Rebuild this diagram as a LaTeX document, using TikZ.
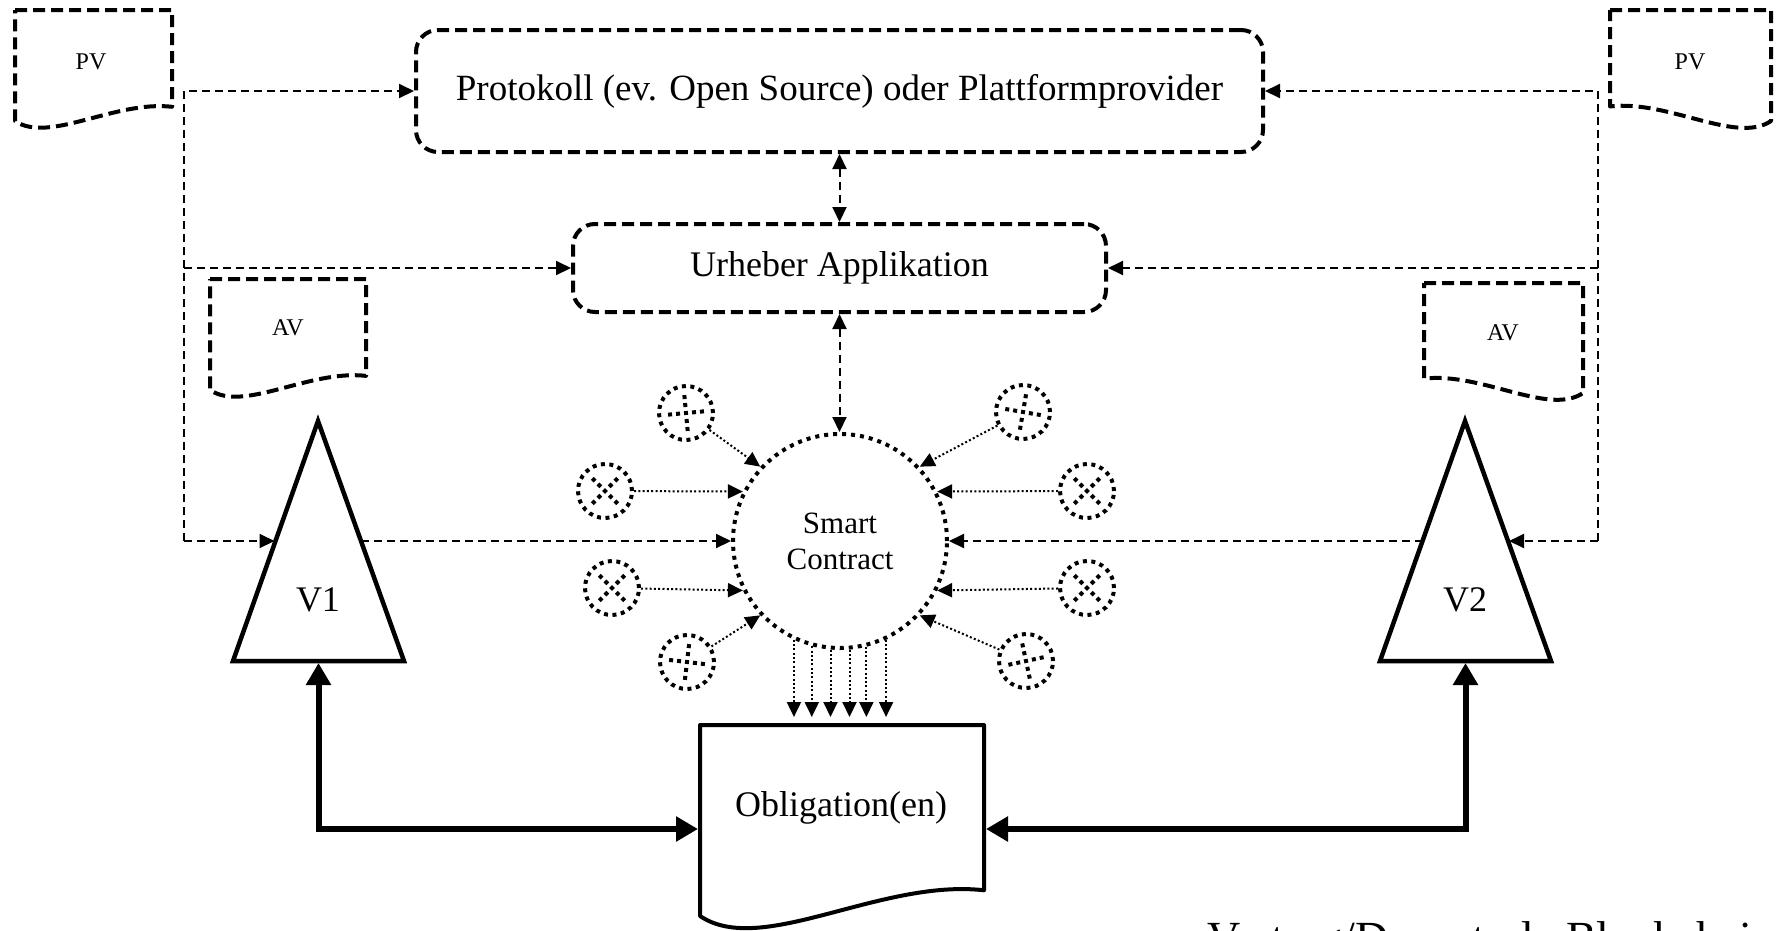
\documentclass[tikz,border=0pt]{standalone}
\usepackage{fontspec}
\setmainfont{Liberation Serif}
\usetikzlibrary{arrows.meta,calc}

% document symbol, wavy bottom lowest on the left:
% #1 left x, #2 top y, #3 width, #4 bottom y on the left side, #5 style
\newcommand{\docLeftLow}[5]{%
  \draw[#5] (#1,#2) -- ({#1+#3},#2) -- ({#1+#3},{#4-0.0906*#3})
    .. controls ({#1+0.634*#3},{#4-0.132*#3}) and ({#1+0.216*#3},{#4+0.146*#3}) .. (#1,#4) -- cycle;}
% same symbol mirrored: wavy bottom lowest on the right
% #4 is the bottom y on the right side
\newcommand{\docRightLow}[5]{%
  \draw[#5] (#1,#2) -- ({#1+#3},#2) -- ({#1+#3},#4)
    .. controls ({#1+#3-0.216*#3},{#4+0.146*#3}) and ({#1+#3-0.634*#3},{#4-0.132*#3}) .. (#1,{#4-0.0906*#3}) -- cycle;}

\begin{document}
\begin{tikzpicture}[x=1pt,y=-1pt,
  >={Triangle[length=15pt,width=14pt]},
  font=\fontsize{36}{42}\selectfont,
  boxdash/.style={line width=4pt, dash pattern=on 12pt off 6pt, line join=round},
  roundbox/.style={boxdash, draw, rounded corners=22pt, inner sep=0pt},
  flow/.style={line width=2pt, dash pattern=on 8pt off 5pt},
  dotline/.style={line width=2pt, dash pattern=on 2pt off 2.3pt},
  dotring/.style={line width=4pt, dash pattern=on 4pt off 5pt},
  agent/.style={draw, line width=4.5pt, line join=miter},
  link/.style={line width=6pt, {Triangle[length=22pt,width=24pt]}-{Triangle[length=22pt,width=24pt]}},
  sat/.style={circle, draw, line width=4pt, dash pattern=on 4pt off 4.5pt, minimum size=54pt, inner sep=0pt},
  cross/.style={line width=4pt, dash pattern=on 4pt off 4pt},
  doclabel/.style={inner sep=0pt, font=\fontsize{24}{28}\selectfont}]

\useasboundingbox (0,0) rectangle (1785,930);

% platform and application boxes
\node[roundbox, minimum width=847pt, minimum height=122pt, font=\fontsize{37}{44}\selectfont]
  (prot) at (839.5,91) {Protokoll (ev. Open Source) oder Plattformprovider};
\node[roundbox, minimum width=533pt, minimum height=88pt] (urh) at (839.5,268) {Urheber Applikation};

% documents
\docLeftLow{15}{10}{157}{121}{boxdash}
\node[doclabel] (pvl) at (91,62) {PV};
\docRightLow{1610}{10}{161}{121}{boxdash}
\node[doclabel] (pvr) at (1690,62) {PV};
\docLeftLow{210}{279}{156}{390}{boxdash}
\node[doclabel] (avl) at (288,328) {AV};
\docRightLow{1424}{283}{159}{393}{boxdash}
\node[doclabel] (avr) at (1503,333) {AV};

% smart contract
\node[circle, draw, dotring, minimum size=214pt, inner sep=0pt, align=center,
  font=\fontsize{31}{36}\selectfont] (sc) at (840,541) {Smart\\Contract};

% parties
\coordinate (v1a) at (318,421); \coordinate (v1l) at (233,661); \coordinate (v1r) at (404,661);
\draw[agent] (v1a) -- (v1l) -- (v1r) -- cycle;
\node (v1) at (318,600) {V1};
\coordinate (v1w) at ($(v1a)!0.5!(v1l)$);
\coordinate (v1e) at ($(v1a)!0.5!(v1r)$);
\coordinate (v1s) at ($(v1l)!0.5!(v1r)$);

\coordinate (v2a) at (1465,421); \coordinate (v2l) at (1380,661); \coordinate (v2r) at (1551,661);
\draw[agent] (v2a) -- (v2l) -- (v2r) -- cycle;
\node (v2) at (1465,600) {V2};
\coordinate (v2w) at ($(v2a)!0.5!(v2l)$);
\coordinate (v2e) at ($(v2a)!0.5!(v2r)$);
\coordinate (v2s) at ($(v2l)!0.5!(v2r)$);

% obligation document
\docLeftLow{700}{725}{284}{916}{line width=4pt, line join=round}
\node (ob) at (841,808) {Obligation(en)};
\coordinate (obn) at (841,717);
\coordinate (obw) at (700,829);
\coordinate (obe) at (984,829);

% dashed information flows, left side
\coordinate (lt) at (184,91); \coordinate (lm) at (184,268); \coordinate (lb) at (184,541);
\draw[flow,->] (lb) -- (lt) -- (prot.west);
\draw[flow,->] (lm) -- (urh.west);
\draw[flow,->,shorten >=1pt] (lb) -- (v1w);
\draw[flow,->] (v1e) -- (sc.west);

% dashed information flows, right side
\coordinate (rt) at (1598,91); \coordinate (rm) at (1598,268); \coordinate (rb) at (1598,541);
\draw[flow,->] (rb) -- (rt) -- (prot.east);
\draw[flow,->] (rm) -- (urh.east);
\draw[flow,->,shorten >=1pt] (rb) -- (v2e);
\draw[flow,->] (v2w) -- (sc.east);

% vertical links
\draw[flow,<->] (prot.south) -- (urh.north);
\draw[flow,<->] (urh.south) -- (urh.south |- sc.north);

% oracles around the contract
\node[sat] (s1) at (686,413) {};
\node[sat] (s2) at (605,491) {};
\node[sat] (s3) at (612,588) {};
\node[sat] (s4) at (687,662) {};
\node[sat] (s5) at (1023,412) {};
\node[sat] (s6) at (1087,491) {};
\node[sat] (s7) at (1087,588) {};
\node[sat] (s8) at (1026,661) {};
\foreach \n/\r in {s1/39.7, s2/0, s3/0, s4/-38.3, s5/144.8, s6/180, s7/180, s8/212.8}
  \draw[cross] ($(\n)+(\r+45:18)$) -- ($(\n)+(\r+225:18)$)
               ($(\n)+(\r+135:18)$) -- ($(\n)+(\r+315:18)$);

\draw[dotline,->] (s1) -- (sc.137);
\draw[dotline,->] (s2) -- (sc.153);
\draw[dotline,->] (s3) -- (sc.207);
\draw[dotline,->] (s4) -- (sc.223);
\draw[dotline,->] (s5) -- (sc.43);
\draw[dotline,->] (s6) -- (sc.27);
\draw[dotline,->] (s7) -- (sc.-27);
\draw[dotline,->] (s8) -- (sc.-43);

% outputs of the contract
\foreach \a in {245,255.5,265,275,284.5,295}
  \draw[dotline,->] (sc.\a) -- (sc.\a |- obn);

% obligations between the parties
\draw[link, shorten <=2pt, shorten >=2pt] (obw) -| (v1s);
\draw[link, shorten <=2pt, shorten >=2pt] (obe) -| (v2s);

% caption running off the lower edge
\node[anchor=base west, inner sep=0pt, font=\fontsize{46}{54}\selectfont] (note) at (1207,953) {Vertrag/Dezentrale Blockchain};

\end{tikzpicture}
\end{document}
